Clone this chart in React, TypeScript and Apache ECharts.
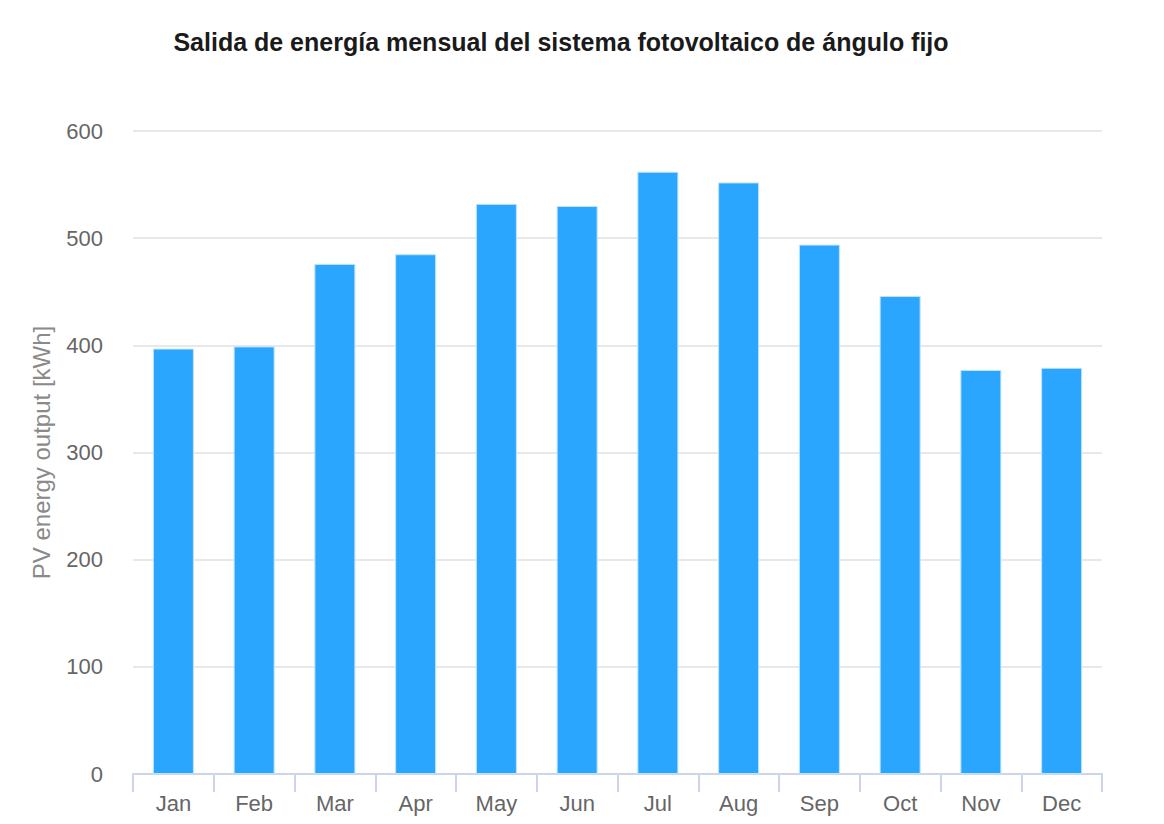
import React, { useEffect, useRef } from "react";
import * as echarts from "echarts";

const months = ["Jan", "Feb", "Mar", "Apr", "May", "Jun", "Jul", "Aug", "Sep", "Oct", "Nov", "Dec"];
const pvOutput = [397, 399, 476, 485, 532, 530, 562, 552, 494, 446, 377, 379];
const yTicks = { min: 0, max: 600, interval: 100 };
const titleText = "Salida de energía mensual del sistema fotovoltaico de ángulo fijo";
const yAxisName = "PV energy output [kWh]";

export default function App() {
  const ref = useRef<HTMLDivElement>(null);
  useEffect(() => {
    if (!ref.current) return;
    const chart = echarts.init(ref.current, undefined, { renderer: "svg" });
    chart.setOption({
      animation: false,
      backgroundColor: "#ffffff",
      textStyle: { fontFamily: "Liberation Sans, Arial, sans-serif" },
      title: {
        text: titleText,
        left: 561,
        top: 29,
        padding: 0,
        textAlign: "center",
        textStyle: { fontSize: 25, fontWeight: "bold", color: "#1a1a1a", fontFamily: "Liberation Sans, Arial, sans-serif" },
      },
      grid: { left: 133, right: 62, top: 131, bottom: 50, containLabel: false },
      xAxis: {
        type: "category",
        data: months,
        axisLine: { show: true, lineStyle: { color: "#ccd6eb", width: 2 } },
        axisTick: { show: true, length: 18, alignWithLabel: false, lineStyle: { color: "#ccd6eb", width: 2 } },
        axisLabel: { color: "#666666", fontSize: 22, margin: 18 },
        splitLine: { show: false },
      },
      yAxis: {
        type: "value",
        min: yTicks.min,
        max: yTicks.max,
        interval: yTicks.interval,
        name: yAxisName,
        nameLocation: "middle",
        nameGap: 80,
        nameRotate: 90,
        nameTextStyle: { color: "#8a8a8a", fontSize: 24 },
        axisLine: { show: false },
        axisTick: { show: false },
        axisLabel: { color: "#666666", fontSize: 22, margin: 30 },
        splitLine: { lineStyle: { color: "#e0e0e0", width: 1.5 } },
      },
      series: [
        {
          type: "bar",
          data: pvOutput,
          barWidth: 41,
          itemStyle: { color: "#2aa6ff", borderColor: "#bfe3ff", borderWidth: 1 },
        },
      ],
    });
    return () => chart.dispose();
  }, []);
  return (
    <div
      ref={ref}
      style={{ position: "fixed", left: 0, top: 0, width: 1164, height: 824, background: "#fff" }}
    />
  );
}
